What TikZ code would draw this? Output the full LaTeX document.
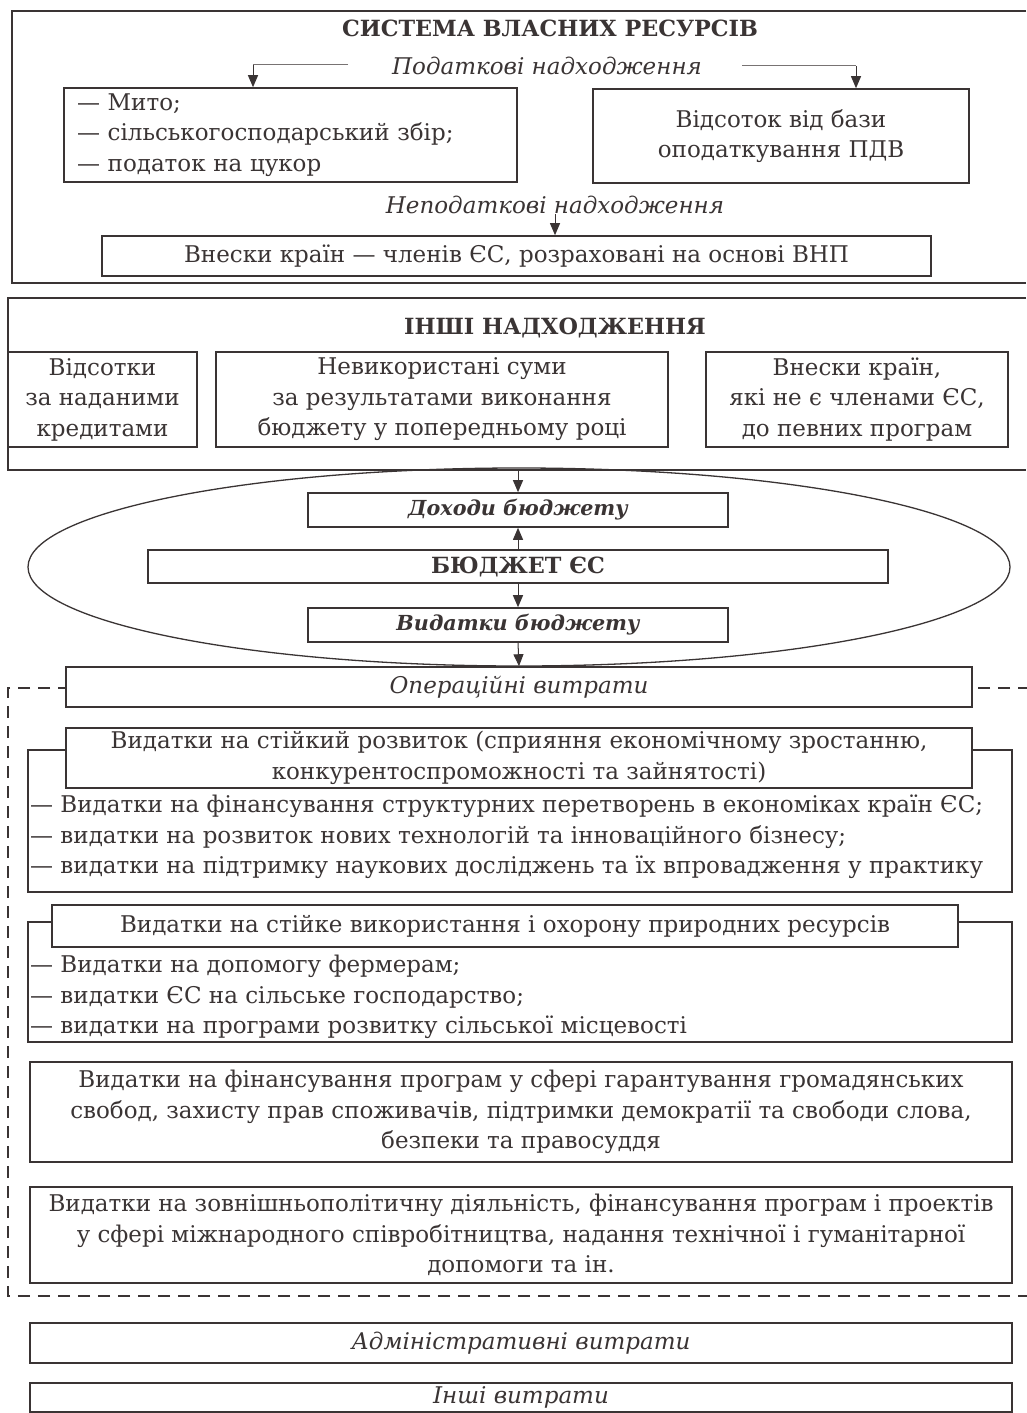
\documentclass[tikz,border=0pt]{standalone}
\usepackage{fontspec}
\setmainfont{DejaVu Serif}
\usetikzlibrary{arrows.meta,shapes.geometric}
\definecolor{ink}{RGB}{58,52,52}
\definecolor{thin}{RGB}{120,115,115}
\newcommand\myfs{\fontsize{23}{30.5}\selectfont}
\newcommand\myhd{\fontsize{22.3}{30}\selectfont\bfseries}
\newcommand\mybi{\fontsize{20.7}{30}\selectfont\bfseries\itshape}
\begin{document}
\begin{tikzpicture}[x=1pt,y=-1pt,
  box/.style={draw=ink, line width=1.6pt, fill=white, inner sep=0pt, align=center, font=\myfs, text=ink},
  frame/.style={draw=ink, line width=1.6pt},
  lbl/.style={inner sep=0pt, font=\myfs, text=ink},
  arr/.style={draw=ink, line width=1pt, -{Triangle[width=10pt,length=12pt]}},
  lead/.style={draw=thin, line width=1pt},
  dashframe/.style={draw=ink, line width=1.6pt, dash pattern=on 12pt off 8pt}]
\useasboundingbox (0,0) rectangle (1026,1413);
\fill[white] (0,0) rectangle (1026,1413);

% ---------- System of own resources ----------
\draw[frame] (1026,11) -- (12,11) -- (12,283) -- (1026,283);
\node[lbl, font=\myhd] (t1) at (550,28) {СИСТЕМА ВЛАСНИХ РЕСУРСІВ};
\node[lbl, font=\myfs\itshape] (pn) at (547,66) {Податкові надходження};
\node[box, minimum width=453pt, minimum height=94pt, text width=427pt, align=left] (m1) at (290.5,135)
  {— Мито;\\— сільськогосподарський збір;\\— податок на цукор};
\node[box, minimum width=376pt, minimum height=94pt] (m2) at (781,136)
  {Відсоток від бази\\оподаткування ПДВ};
\node[lbl, font=\myfs\itshape] (np) at (555,205) {Неподаткові надходження};
\node[box, minimum width=829pt, minimum height=40pt] (vb) at (516.5,256)
  {Внески країн — членів ЄС, розраховані на основі ВНП};
\coordinate (pl) at (348,65);
\coordinate (plc) at (253,65);
\coordinate (pr) at (742,66);
\coordinate (prc) at (856,66);
\draw[lead] (pl) -- (plc);
\draw[arr] (plc) -- (plc |- m1.north);
\draw[lead] (pr) -- (prc);
\draw[arr] (prc) -- (prc |- m2.north);
\draw[arr] (np.south) -- (np.south |- vb.north);

% ---------- Other revenues ----------
\draw[frame] (1026,298) -- (8,298) -- (8,470) -- (1026,470);
\node[lbl, font=\myhd] (t2) at (555,328) {ІНШІ НАДХОДЖЕННЯ};
\node[box, minimum width=189pt, minimum height=95pt] (o1) at (102.5,399.5)
  {Відсотки\\за наданими\\кредитами};
\node[box, minimum width=452pt, minimum height=95pt] (o2) at (442,399.5)
  {Невикористані суми\\за результатами виконання\\бюджету у попередньому році};
\node[box, minimum width=302pt, minimum height=95pt] (o3) at (857,399.5)
  {Внески країн,\\які не є членами ЄС,\\до певних програм};
\coordinate (b2b) at (518,470);

% ---------- Budget ellipse ----------
\draw[draw=ink, line width=1.3pt] (519,567) ellipse [x radius=491, y radius=99];
\node[box, minimum width=420pt, minimum height=34pt, font=\mybi] (d) at (518,510) {Доходи бюджету};
\node[box, minimum width=740pt, minimum height=33pt, font=\myhd] (b) at (518,566.5) {БЮДЖЕТ ЄС};
\node[box, minimum width=420pt, minimum height=34pt, font=\mybi] (v) at (518,625) {Видатки бюджету};
\draw[arr] (b2b) -- (d.north);
\draw[arr] (b.north) -- (d.south);
\draw[arr] (b.south) -- (v.north);

% ---------- Operating expenses (dashed group) ----------
\draw[dashframe] (1030,688) -- (8,688) -- (8,1296) -- (1030,1296);
\node[box, minimum width=906pt, minimum height=40pt, font=\myfs\itshape] (op) at (519,687) {Операційні витрати};
\draw[arr] (v.south) -- (op.north);

\draw[frame] (28,750) rectangle (1012,892);
\node[box, minimum width=906pt, minimum height=60pt] (h1) at (519,758)
  {Видатки на стійкий розвиток (сприяння економічному зростанню,\\конкурентоспроможності та зайнятості)};
\node[lbl, anchor=west, align=left] (l1) at (30,837)
  {— Видатки на фінансування структурних перетворень в економіках країн ЄС;\\
   — видатки на розвиток нових технологій та інноваційного бізнесу;\\
   — видатки на підтримку наукових досліджень та їх впровадження у практику};

\draw[frame] (28,922) rectangle (1012,1042);
\node[box, minimum width=906pt, minimum height=42pt] (h2) at (505,926)
  {Видатки на стійке використання і охорону природних ресурсів};
\node[lbl, anchor=west, align=left] (l2) at (30,997)
  {— Видатки на допомогу фермерам;\\
   — видатки ЄС на сільське господарство;\\
   — видатки на програми розвитку сільської місцевості};

\node[box, minimum width=982pt, minimum height=100pt] (e5) at (521,1112)
  {Видатки на фінансування програм у сфері гарантування громадянських\\свобод, захисту прав споживачів, підтримки демократії та свободи слова,\\безпеки та правосуддя};
\node[box, minimum width=982pt, minimum height=96pt] (e6) at (521,1235)
  {Видатки на зовнішньополітичну діяльність, фінансування програм і проектів\\у сфері міжнародного співробітництва, надання технічної і гуманітарної\\допомоги та ін.};

% ---------- Administrative and other ----------
\node[box, minimum width=982pt, minimum height=40pt, font=\myfs\itshape] (adm) at (521,1343) {Адміністративні витрати};
\node[box, minimum width=982pt, minimum height=29pt, font=\myfs\itshape] (oth) at (521,1397.5) {Інші витрати};
\end{tikzpicture}
\end{document}
